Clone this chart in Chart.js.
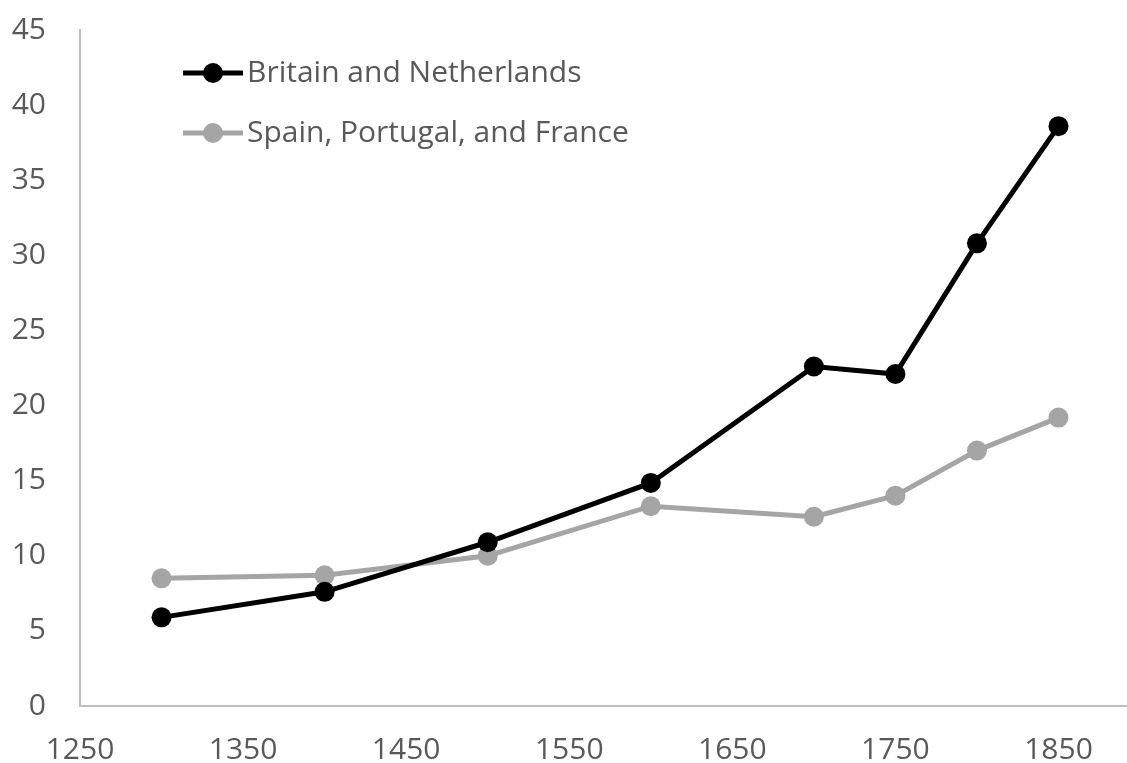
<!DOCTYPE html>
<html>
<head>
<meta charset="utf-8">
<script src="https://cdn.jsdelivr.net/npm/chart.js@4"></script>
<style>
  html, body { margin: 0; padding: 0; background: #fff; }
  #wrap { width: 1127px; height: 763px; }
</style>
</head>
<body>
<div id="wrap"><canvas id="myChart"></canvas></div>
<script>
'use strict';

// chart data
const years = [1300, 1400, 1500, 1600, 1700, 1750, 1800, 1850];
const britainNetherlands = [5.9, 7.6, 10.9, 14.85, 22.6, 22.1, 30.8, 38.6];
const spainPortugalFrance = [8.5, 8.7, 10.0, 13.3, 12.6, 14.0, 17.0, 19.2];
const xTicks = [1250, 1350, 1450, 1550, 1650, 1750, 1850];
const yTicks = [0, 5, 10, 15, 20, 25, 30, 35, 40, 45];

const seriesNames = ['Britain and Netherlands', 'Spain, Portugal, and France'];
const seriesColors = ['#000000', '#a5a5a5'];

const FONT = '"Open Sans", "Noto Sans", sans-serif';
const FONT_SIZE = 30;
const TEXT_COLOR = '#595959';
const AXIS_COLOR = '#bfbfbf';

function toPoints(values) {
  return years.map((year, i) => ({ x: year, y: values[i] }));
}

// draws the legend inside the plot, top-left, like the original
const insideLegend = {
  id: 'insideLegend',
  afterDraw(chart) {
    const ctx = chart.ctx;
    const left = chart.chartArea.left + 103;
    const top = chart.chartArea.top + 43;
    ctx.save();
    chart.data.datasets.forEach((ds, i) => {
      const y = top + i * 60;
      ctx.strokeStyle = ds.borderColor;
      ctx.lineWidth = 5;
      ctx.beginPath();
      ctx.moveTo(left, y);
      ctx.lineTo(left + 60, y);
      ctx.stroke();
      ctx.fillStyle = ds.backgroundColor;
      ctx.beginPath();
      ctx.arc(left + 30, y, 10, 0, Math.PI * 2);
      ctx.fill();
      ctx.fillStyle = TEXT_COLOR;
      ctx.font = FONT_SIZE + 'px ' + FONT;
      ctx.textBaseline = 'middle';
      ctx.textAlign = 'left';
      ctx.fillText(ds.label, left + 64, y);
    });
    ctx.restore();
  },
};

const ctx = document.getElementById('myChart').getContext('2d');

const myChart = new Chart(ctx, {
  type: 'line',
  data: {
    datasets: [
      {
        label: seriesNames[0],
        data: toPoints(britainNetherlands),
        borderColor: seriesColors[0],
        backgroundColor: seriesColors[0],
      },
      {
        label: seriesNames[1],
        data: toPoints(spainPortugalFrance),
        borderColor: seriesColors[1],
        backgroundColor: seriesColors[1],
      },
    ],
  },
  options: {
    responsive: true,
    maintainAspectRatio: false,
    animation: false,
    elements: {
      line: { borderWidth: 5, tension: 0 },
      point: { radius: 10, borderWidth: 0, hoverRadius: 10 },
    },
    layout: {
      autoPadding: false,
      padding: { left: 0, right: 0, top: 30, bottom: 0 },
    },
    scales: {
      x: {
        type: 'linear',
        min: 1250,
        max: 1892,
        afterBuildTicks: (axis) => {
          axis.ticks = xTicks.map((v) => ({ value: v }));
        },
        afterFit: (axis) => {
          axis.height = 57;
          // axis runs to the right edge like the original
          axis.paddingRight = 0;
        },
        // tick marks are hidden with the grid; tickLength only spaces the labels
        grid: { display: false, drawTicks: true, tickLength: 29 },
        border: { display: true, color: AXIS_COLOR, width: 2 },
        ticks: {
          color: TEXT_COLOR,
          font: { family: FONT, size: FONT_SIZE, lineHeight: 1 },
          padding: 0,
          maxRotation: 0,
          autoSkip: false,
          callback: (value) => String(value),
        },
      },
      y: {
        min: 0,
        max: 45,
        afterBuildTicks: (axis) => {
          axis.ticks = yTicks.map((v) => ({ value: v }));
        },
        afterFit: (axis) => {
          axis.width = 80;
        },
        grid: { display: false, drawTicks: true, tickLength: 34 },
        border: { display: true, color: AXIS_COLOR, width: 2 },
        ticks: {
          color: TEXT_COLOR,
          font: { family: FONT, size: FONT_SIZE, lineHeight: 1 },
          padding: 0,
        },
      },
    },
    plugins: {
      legend: { display: false },
      tooltip: { enabled: false },
    },
  },
  plugins: [insideLegend],
});
</script>
</body>
</html>
